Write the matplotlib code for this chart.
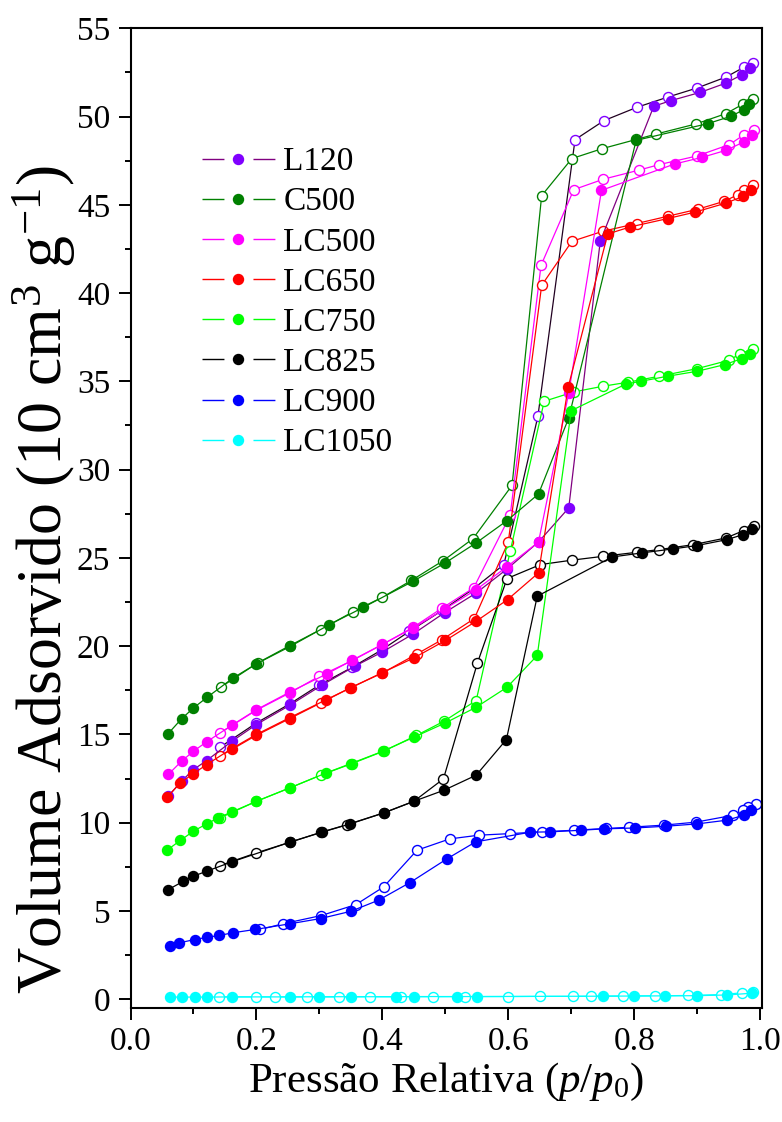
import matplotlib
matplotlib.use('Agg')
import matplotlib.pyplot as plt
from matplotlib.lines import Line2D
from matplotlib.ticker import MultipleLocator

plt.rcParams['font.family'] = ['Liberation Serif', 'DejaVu Serif']
plt.rcParams['mathtext.fontset'] = 'custom'
plt.rcParams['mathtext.rm'] = 'Liberation Serif'
plt.rcParams['mathtext.it'] = 'Liberation Serif:italic'

# Sample names and colours (marker colour, line colour for adsorption / desorption)
labels = ['L120', 'C500', 'LC500', 'LC650', 'LC750', 'LC825', 'LC900', 'LC1050']
marker_colors = ['#8000ff', '#008000', '#ff00ff', '#ff0000', '#00ff00', '#000000', '#0000ff', '#00ffff']
ads_line_colors = ['#800080', '#008000', '#ff00ff', '#ff0000', '#00ff00', '#000000', '#0000ff', '#00ffff']
des_line_colors = ['#200020', '#008000', '#ff00ff', '#ff0000', '#00ff00', '#000000', '#0000ff', '#00ffff']

# L120
l120_ads_x = [0.060, 0.081, 0.100, 0.121, 0.161, 0.200, 0.253, 0.304, 0.356, 0.400, 0.449, 0.499,
              0.549, 0.598, 0.648, 0.696, 0.746, 0.831, 0.858, 0.905, 0.946, 0.971, 0.984]
l120_ads_y = [11.50, 12.35, 13.01, 13.52, 14.61, 15.56, 16.65, 17.79, 18.86, 19.67, 20.69, 21.90,
              23.01, 24.37, 25.90, 27.83, 42.93, 50.58, 50.90, 51.37, 51.90, 52.37, 52.75]
l120_des_x = [0.989, 0.974, 0.946, 0.900, 0.854, 0.804, 0.752, 0.706, 0.647, 0.593, 0.545, 0.495,
              0.443, 0.400, 0.352, 0.300, 0.253, 0.200, 0.142]
l120_des_y = [53.03, 52.79, 52.24, 51.62, 51.11, 50.52, 49.77, 48.69, 33.02, 24.62, 23.26, 22.02,
              20.84, 19.81, 18.80, 17.80, 16.73, 15.65, 14.27]

# C500
c500_ads_x = [0.060, 0.081, 0.100, 0.122, 0.163, 0.200, 0.254, 0.316, 0.370, 0.449, 0.500, 0.549,
              0.598, 0.648, 0.696, 0.803, 0.917, 0.954, 0.974, 0.983]
c500_ads_y = [15.05, 15.88, 16.50, 17.11, 18.20, 19.00, 19.99, 21.22, 22.20, 23.68, 24.72, 25.85,
              27.11, 28.62, 32.93, 48.65, 49.60, 50.02, 50.39, 50.71]
c500_des_x = [0.989, 0.973, 0.946, 0.898, 0.835, 0.803, 0.749, 0.701, 0.653, 0.606, 0.544, 0.497,
              0.446, 0.400, 0.353, 0.302, 0.253, 0.202, 0.143]
c500_des_y = [51.01, 50.71, 50.17, 49.58, 49.01, 48.70, 48.18, 47.62, 45.52, 29.11, 26.09, 24.85,
              23.72, 22.77, 21.94, 20.94, 20.03, 19.05, 17.67]

# LC500
lc500_ads_x = [0.060, 0.081, 0.100, 0.121, 0.161, 0.200, 0.253, 0.312, 0.352, 0.400, 0.449, 0.499,
               0.549, 0.598, 0.648, 0.696, 0.748, 0.864, 0.908, 0.946, 0.974, 0.987]
lc500_ads_y = [12.73, 13.48, 14.05, 14.58, 15.52, 16.40, 17.40, 18.43, 19.20, 20.10, 21.03, 22.10,
               23.20, 24.50, 25.90, 34.34, 45.82, 47.31, 47.69, 48.09, 48.56, 48.98]
lc500_des_x = [0.991, 0.975, 0.951, 0.900, 0.840, 0.807, 0.751, 0.704, 0.652, 0.603, 0.545, 0.495,
               0.449, 0.400, 0.352, 0.300, 0.253, 0.200, 0.142]
lc500_des_y = [49.26, 48.98, 48.41, 47.77, 47.28, 46.96, 46.45, 45.86, 41.57, 27.41, 23.30, 22.16,
               21.07, 20.09, 19.18, 18.30, 17.35, 16.37, 15.08]

# LC650
lc650_ads_x = [0.058, 0.079, 0.100, 0.121, 0.161, 0.200, 0.253, 0.311, 0.349, 0.400, 0.450, 0.500,
               0.549, 0.599, 0.648, 0.695, 0.758, 0.794, 0.853, 0.896, 0.946, 0.973, 0.986]
lc650_ads_y = [11.44, 12.25, 12.78, 13.29, 14.20, 15.00, 15.95, 16.97, 17.63, 18.50, 19.33, 20.32,
               21.41, 22.64, 24.15, 34.66, 43.35, 43.75, 44.22, 44.58, 45.10, 45.48, 45.86]
lc650_des_x = [0.989, 0.975, 0.965, 0.943, 0.902, 0.853, 0.804, 0.750, 0.701, 0.653, 0.600, 0.546,
               0.495, 0.455, 0.400, 0.350, 0.302, 0.253, 0.200, 0.142]
lc650_des_y = [46.14, 45.86, 45.58, 45.20, 44.76, 44.35, 43.94, 43.50, 42.93, 40.44, 25.90, 21.56,
               20.37, 19.56, 18.48, 17.65, 16.78, 15.90, 14.95, 13.76]

# LC750
lc750_ads_x = [0.058, 0.079, 0.100, 0.121, 0.139, 0.161, 0.200, 0.253, 0.311, 0.350, 0.401, 0.450,
               0.500, 0.549, 0.598, 0.646, 0.700, 0.787, 0.810, 0.853, 0.900, 0.944, 0.971, 0.984]
lc750_ads_y = [8.44, 8.99, 9.52, 9.93, 10.27, 10.61, 11.21, 11.97, 12.82, 13.35, 14.05, 14.84,
               15.65, 16.54, 17.67, 19.47, 33.34, 34.85, 35.00, 35.29, 35.57, 35.95, 36.29, 36.57]
lc750_des_x = [0.988, 0.968, 0.950, 0.900, 0.840, 0.790, 0.750, 0.704, 0.657, 0.603, 0.549, 0.498,
               0.454, 0.402, 0.352, 0.302, 0.253, 0.200, 0.142]
lc750_des_y = [36.83, 36.55, 36.19, 35.72, 35.29, 34.95, 34.72, 34.40, 33.87, 25.37, 16.92, 15.75,
               14.94, 14.05, 13.35, 12.69, 11.97, 11.21, 10.27]

# LC825
lc825_ads_x = [0.060, 0.084, 0.100, 0.121, 0.161, 0.253, 0.304, 0.349, 0.402, 0.450, 0.498, 0.549,
               0.597, 0.646, 0.765, 0.812, 0.862, 0.900, 0.948, 0.973, 0.987]
lc825_ads_y = [6.21, 6.68, 6.97, 7.25, 7.78, 8.89, 9.46, 9.93, 10.55, 11.21, 11.84, 12.69,
               14.71, 22.83, 25.05, 25.28, 25.51, 25.70, 26.04, 26.32, 26.64]
lc825_des_x = [0.990, 0.974, 0.946, 0.894, 0.840, 0.805, 0.751, 0.701, 0.651, 0.598, 0.551, 0.497,
               0.450, 0.402, 0.344, 0.303, 0.253, 0.200, 0.142]
lc825_des_y = [26.79, 26.55, 26.13, 25.75, 25.47, 25.32, 25.09, 24.87, 24.62, 23.83, 19.05, 12.48,
               11.21, 10.55, 9.89, 9.46, 8.89, 8.29, 7.57]

# LC900
lc900_ads_x = [0.062, 0.077, 0.102, 0.122, 0.141, 0.162, 0.198, 0.253, 0.302, 0.350, 0.394, 0.444,
               0.503, 0.548, 0.635, 0.667, 0.715, 0.752, 0.802, 0.851, 0.900, 0.947, 0.974, 0.986]
lc900_ads_y = [3.04, 3.19, 3.38, 3.51, 3.61, 3.76, 3.95, 4.27, 4.57, 4.98, 5.61, 6.61,
               7.96, 8.91, 9.46, 9.48, 9.57, 9.65, 9.70, 9.80, 9.93, 10.14, 10.42, 10.74]
lc900_des_x = [0.994, 0.981, 0.973, 0.957, 0.898, 0.847, 0.792, 0.755, 0.704, 0.653, 0.603, 0.553,
               0.507, 0.455, 0.402, 0.358, 0.303, 0.242, 0.206]
lc900_des_y = [11.08, 10.89, 10.71, 10.42, 10.03, 9.86, 9.74, 9.67, 9.57, 9.48, 9.38, 9.29,
               9.08, 8.44, 6.36, 5.36, 4.74, 4.27, 3.95]

# LC1050
lc1050_ads_x = [0.062, 0.081, 0.103, 0.121, 0.161, 0.253, 0.300, 0.350, 0.421, 0.450, 0.518, 0.550,
                0.750, 0.799, 0.849, 0.900, 0.948, 0.987]
lc1050_ads_y = [0.12, 0.12, 0.12, 0.12, 0.13, 0.13, 0.14, 0.14, 0.14, 0.15, 0.15, 0.15,
                0.17, 0.18, 0.19, 0.20, 0.24, 0.34]
lc1050_des_x = [0.989, 0.971, 0.938, 0.885, 0.833, 0.782, 0.731, 0.702, 0.650, 0.600, 0.532, 0.480,
                0.430, 0.381, 0.331, 0.280, 0.230, 0.200, 0.140]
lc1050_des_y = [0.43, 0.36, 0.26, 0.21, 0.19, 0.18, 0.17, 0.16, 0.16, 0.15, 0.15, 0.14,
                0.14, 0.14, 0.13, 0.13, 0.13, 0.13, 0.13]

ads = [(l120_ads_x, l120_ads_y), (c500_ads_x, c500_ads_y), (lc500_ads_x, lc500_ads_y),
       (lc650_ads_x, lc650_ads_y), (lc750_ads_x, lc750_ads_y), (lc825_ads_x, lc825_ads_y),
       (lc900_ads_x, lc900_ads_y), (lc1050_ads_x, lc1050_ads_y)]
des = [(l120_des_x, l120_des_y), (c500_des_x, c500_des_y), (lc500_des_x, lc500_des_y),
       (lc650_des_x, lc650_des_y), (lc750_des_x, lc750_des_y), (lc825_des_x, lc825_des_y),
       (lc900_des_x, lc900_des_y), (lc1050_des_x, lc1050_des_y)]

fig = plt.figure(figsize=(7.82, 11.22), dpi=100)
ax = fig.add_axes([0.1669, 0.1019, 0.8075, 0.8729])

ms = 7.2
for i in range(len(labels)):
    dx, dy = des[i]
    ax.plot(dx, dy, '-', color=des_line_colors[i], lw=0.9, marker='o', ms=ms,
            mfc='white', mec=marker_colors[i], mew=1.0, zorder=2)
    axx, ayy = ads[i]
    ax.plot(axx, ayy, '-', color=ads_line_colors[i], lw=0.9, marker='o', ms=ms,
            mfc=marker_colors[i], mec=marker_colors[i], mew=1.0, zorder=3)

ax.set_xlim(0, 1.0029)
ax.set_ylim(-0.48, 55)
ax.xaxis.set_major_locator(MultipleLocator(0.2))
ax.xaxis.set_minor_locator(MultipleLocator(0.1))
ax.yaxis.set_major_locator(MultipleLocator(5))
ax.yaxis.set_minor_locator(MultipleLocator(2.5))
ax.set_xticks([0.0, 0.2, 0.4, 0.6, 0.8, 1.0])
ax.set_xticklabels(['0.0', '0.2', '0.4', '0.6', '0.8', '1.0'])

ax.tick_params(axis='both', which='major', direction='out', length=8.6, width=1.4,
               labelsize=24, pad=5)
ax.tick_params(axis='both', which='minor', direction='out', length=4.3, width=1.4)
ax.tick_params(axis='y', which='major', pad=6)
for s in ax.spines.values():
    s.set_linewidth(1.5)

ax.set_xlabel('Pressão Relativa ($p$/$p_0$)', fontsize=31, labelpad=3)
ax.set_ylabel('Volume Adsorvido (10 cm$^{3}$ g$^{-1}$)', fontsize=46)
ax.yaxis.set_label_coords(-0.083, 0.437)

handles = []
for i in range(len(labels)):
    handles.append(Line2D([], [], color=ads_line_colors[i], lw=1.0, linestyle=(0, (15.8, 20.9)),
                          marker='o', ms=ms, mfc=marker_colors[i], mec=marker_colors[i]))
ax.legend(handles, labels, loc='upper left', bbox_to_anchor=(0.113, 0.879), frameon=False,
          fontsize=24, handlelength=2.19, handletextpad=0.25, labelspacing=0.29,
          borderpad=0, borderaxespad=0, numpoints=1)

fig.savefig('out.png', dpi=100)
